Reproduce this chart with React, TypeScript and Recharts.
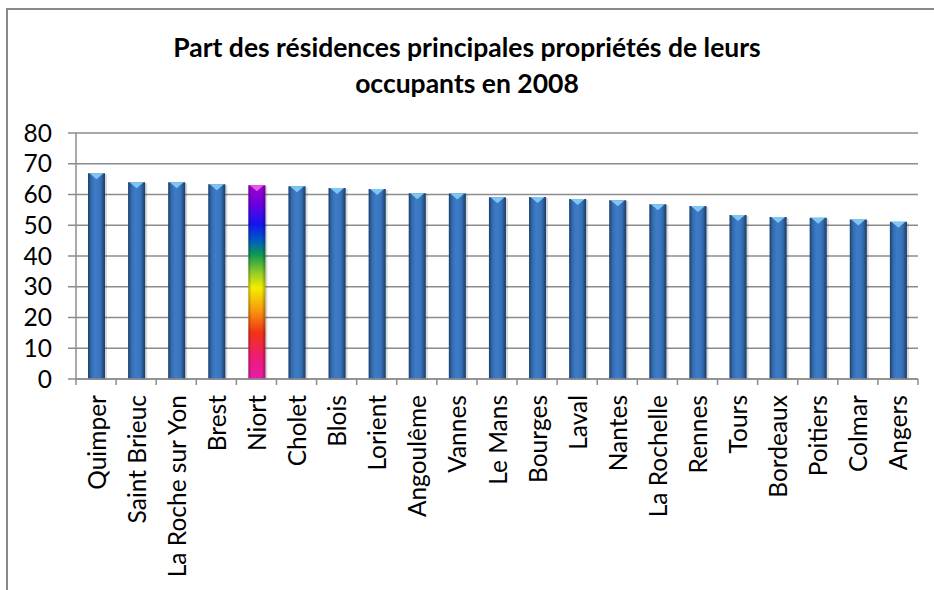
import { BarChart, Bar, XAxis, YAxis, CartesianGrid } from 'recharts'

const villes = [
  'Quimper', 'Saint Brieuc', 'La Roche sur Yon', 'Brest', 'Niort', 'Cholet', 'Blois',
  'Lorient', 'Angoulême', 'Vannes', 'Le Mans', 'Bourges', 'Laval', 'Nantes',
  'La Rochelle', 'Rennes', 'Tours', 'Bordeaux', 'Poitiers', 'Colmar', 'Angers',
]
const parts = [
  66.9, 64.0, 64.0, 63.3, 63.0, 62.7, 62.1, 61.8, 60.4, 60.3, 59.1,
  59.2, 58.5, 58.1, 56.8, 56.3, 53.3, 52.7, 52.4, 51.9, 51.1,
]
const yTicks = [0, 10, 20, 30, 40, 50, 60, 70, 80]
const villeMiseEnAvant = 'Niort'

const data = villes.map((ville, i) => ({ ville, part: parts[i] }))

const FONT = 'Lato, "Open Sans", sans-serif'
const GRID = '#8c8c8c'

function Gradients() {
  return (
    <defs>
      <linearGradient id="blueBar" x1="0" y1="0" x2="1" y2="0">
        <stop offset="0%" stopColor="#2a5b98" />
        <stop offset="40%" stopColor="#3d7bc6" />
        <stop offset="65%" stopColor="#3a77c1" />
        <stop offset="100%" stopColor="#27568f" />
      </linearGradient>
      <linearGradient id="edgeShade" x1="0" y1="0" x2="1" y2="0">
        <stop offset="0%" stopColor="#000" stopOpacity={0.3} />
        <stop offset="18%" stopColor="#000" stopOpacity={0} />
        <stop offset="78%" stopColor="#000" stopOpacity={0} />
        <stop offset="100%" stopColor="#000" stopOpacity={0.3} />
      </linearGradient>
      <linearGradient id="rainbow" x1="0" y1="0" x2="0" y2="1">
        <stop offset="0%" stopColor="#a000c8" />
        <stop offset="10%" stopColor="#6a00e0" />
        <stop offset="20%" stopColor="#1414f0" />
        <stop offset="28%" stopColor="#0058c8" />
        <stop offset="36%" stopColor="#109a50" />
        <stop offset="45%" stopColor="#90cc28" />
        <stop offset="53%" stopColor="#f4ee00" />
        <stop offset="65%" stopColor="#f89410" />
        <stop offset="76%" stopColor="#f03414" />
        <stop offset="88%" stopColor="#f01c70" />
        <stop offset="100%" stopColor="#e41ca8" />
      </linearGradient>
    </defs>
  )
}

function GlossyBar(props: any) {
  const x = Number(props.x)
  const y = Number(props.y)
  const width = Number(props.width)
  const height = Number(props.height)
  const { payload, index } = props
  if (!(height > 0)) return null
  const special = payload?.ville === villeMiseEnAvant
  const cap = Math.min(6, height / 2)
  return (
    <g>
      {index === 0 && <Gradients />}
      <path d={`M${x + 2},${y + 1}h${width}v${height}h${-width}Z`} fill="#000" fillOpacity={0.15} />
      <path d={`M${x},${y}h${width}v${height}h${-width}Z`} fill={special ? 'url(#rainbow)' : 'url(#blueBar)'} />
      <path d={`M${x},${y}h${width}v${height}h${-width}Z`} fill="url(#edgeShade)" />
      <polygon
        points={`${x + 1.5},${y} ${x + width - 1.5},${y} ${x + width / 2},${y + cap}`}
        fill={special ? '#e35ce8' : '#7fc6f2'}
      />
    </g>
  )
}

function CityTick(props: any) {
  const { x, y, payload, index } = props
  const half = payload?.offset ?? 20
  const last = index === villes.length - 1
  return (
    <g>
      <line x1={x - half} y1={y - 8} x2={x - half} y2={y - 2} stroke={GRID} strokeWidth={1.5} />
      {last && <line x1={x + half} y1={y - 8} x2={x + half} y2={y - 2} stroke={GRID} strokeWidth={1.5} />}
      <text
        x={x}
        y={y + 8}
        transform={`rotate(-90 ${x} ${y + 8})`}
        textAnchor="end"
        dominantBaseline="central"
        fontSize={24.5}
        fontFamily={FONT}
        fill="#000"
      >
        {payload.value}
      </text>
    </g>
  )
}

export default function App() {
  return (
    <div style={{ position: 'relative', width: 934, height: 590, background: '#fff', fontFamily: FONT }}>
      <style>{'body{margin:0}'}</style>
      <div style={{ position: 'absolute', left: 6, top: 8, width: 928, height: 2, background: '#8a8a8a' }} />
      <div style={{ position: 'absolute', left: 6, top: 8, width: 2, height: 582, background: '#8a8a8a' }} />
      <div
        style={{
          position: 'absolute',
          left: 0,
          top: 29,
          width: 934,
          textAlign: 'center',
          fontWeight: 700,
          fontSize: 26.5,
          lineHeight: '36px',
          color: '#000',
        }}
      >
        Part des résidences principales propriétés de leurs
        <br />
        occupants en 2008
      </div>
      <BarChart
        width={934}
        height={590}
        data={data}
        margin={{ top: 133, right: 16, bottom: 0, left: 0 }}
        barSize={17}
        style={{ position: 'absolute', left: 0, top: 0 }}
      >
        <CartesianGrid horizontal vertical={false} stroke={GRID} strokeWidth={1.5} />
        <XAxis
          dataKey="ville"
          interval={0}
          height={211}
          tickLine={false}
          axisLine={{ stroke: GRID, strokeWidth: 1.5 }}
          tick={<CityTick />}
        />
        <YAxis
          domain={[0, 80]}
          ticks={yTicks}
          interval={0}
          width={76}
          tickSize={8}
          tickLine={{ stroke: GRID, strokeWidth: 1.5 }}
          axisLine={{ stroke: GRID, strokeWidth: 1.5 }}
          tick={{ fontSize: 24.5, fill: '#000', fontFamily: FONT }}
          tickMargin={16}
        />
        <Bar dataKey="part" shape={<GlossyBar />} isAnimationActive={false} />
      </BarChart>
    </div>
  )
}
